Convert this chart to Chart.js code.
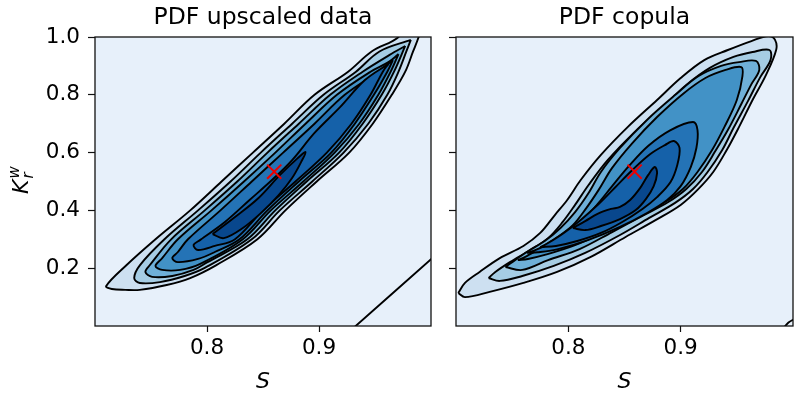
<!DOCTYPE html>
<html>
<head>
<meta charset="utf-8">
<script src="https://cdn.jsdelivr.net/npm/chart.js@4.4.1/dist/chart.umd.min.js"></script>
<style>
  html, body { margin: 0; padding: 0; background: #fff; }
  #wrap { position: relative; width: 797px; height: 399px; }
  canvas { position: absolute; top: 0; }
</style>
</head>
<body>
<div id="wrap">
  <canvas id="left" width="440" height="399" style="left:0"></canvas>
  <canvas id="right" width="357" height="399" style="left:440px"></canvas>
</div>
<script>
// axis ticks
var xTicks = [0.8, 0.9];
var yTicks = [0.2, 0.4, 0.6, 0.8, 1.0];

// filled contour colours, outer -> inner
var levelColors = ['#cde0f1', '#a6cde4', '#6fb0d8', '#4292c6', '#2473b6', '#1561a9', '#08478d'];
var bgColor = '#e7f0fa';

// red x marks
var upscaledMark = [0.860, 0.534];
var copulaMark = [0.859, 0.534];

// "PDF upscaled data" contours (S, Kr^w)
var upL1 = [[0.968,1.03],[0.971,1.0],[0.947,0.95],[0.926,0.88],[0.896,0.80],[0.869,0.70],[0.841,0.60],[0.813,0.50],[0.785,0.40],[0.754,0.30],[0.728,0.21],[0.710,0.138],[0.715,0.128],[0.727,0.125],[0.740,0.125],[0.764,0.142],[0.785,0.166],[0.808,0.21],[0.845,0.30],[0.870,0.40],[0.898,0.50],[0.927,0.60],[0.948,0.70],[0.965,0.80],[0.977,0.88],[0.984,0.95],[0.989,1.0],[0.991,1.03]];
var upL2 = [[0.982,0.990],[0.954,0.95],[0.933,0.88],[0.904,0.80],[0.876,0.70],[0.848,0.60],[0.821,0.50],[0.792,0.40],[0.762,0.30],[0.740,0.21],[0.735,0.166],[0.740,0.149],[0.758,0.152],[0.780,0.173],[0.798,0.201],[0.840,0.30],[0.865,0.40],[0.894,0.50],[0.922,0.60],[0.944,0.70],[0.961,0.80],[0.971,0.88],[0.978,0.95]];
var upL3 = [[0.977,0.969],[0.963,0.938],[0.939,0.88],[0.910,0.80],[0.882,0.70],[0.854,0.60],[0.827,0.50],[0.798,0.40],[0.768,0.30],[0.749,0.211],[0.745,0.187],[0.751,0.170],[0.769,0.173],[0.788,0.194],[0.800,0.22],[0.836,0.30],[0.861,0.40],[0.889,0.50],[0.918,0.60],[0.939,0.70],[0.956,0.80],[0.967,0.88]];
var upL4 = [[0.971,0.941],[0.962,0.913],[0.946,0.88],[0.916,0.80],[0.888,0.70],[0.861,0.60],[0.833,0.50],[0.804,0.40],[0.774,0.30],[0.760,0.235],[0.754,0.208],[0.760,0.194],[0.776,0.194],[0.794,0.215],[0.832,0.30],[0.857,0.40],[0.886,0.50],[0.914,0.60],[0.936,0.70],[0.953,0.80],[0.964,0.88]];
var upL5 = [[0.966,0.920],[0.953,0.88],[0.923,0.80],[0.896,0.70],[0.868,0.60],[0.840,0.50],[0.812,0.40],[0.783,0.30],[0.774,0.256],[0.769,0.235],[0.774,0.221],[0.792,0.232],[0.807,0.256],[0.829,0.30],[0.854,0.40],[0.882,0.50],[0.911,0.60],[0.932,0.70],[0.949,0.80],[0.961,0.88]];
var upL6 = [[0.962,0.907],[0.941,0.851],[0.919,0.758],[0.896,0.668],[0.876,0.574],[0.858,0.505],[0.838,0.436],[0.816,0.360],[0.794,0.298],[0.788,0.280],[0.792,0.263],[0.807,0.277],[0.825,0.30],[0.850,0.40],[0.879,0.50],[0.907,0.60],[0.929,0.70],[0.946,0.80],[0.957,0.88]];
var upL7 = [[0.805,0.318],[0.825,0.377],[0.846,0.443],[0.865,0.522],[0.881,0.581],[0.888,0.602],[0.884,0.567],[0.876,0.512],[0.864,0.453],[0.849,0.394],[0.832,0.339],[0.815,0.304]];
var upEdge = [[0.931,-0.006],[1.002,0.238]];

// "PDF copula" contours
var cpL1 = [[0.702,0.114],[0.708,0.149],[0.721,0.187],[0.739,0.235],[0.760,0.277],[0.775,0.322],[0.788,0.384],[0.799,0.436],[0.811,0.505],[0.829,0.592],[0.853,0.689],[0.879,0.782],[0.900,0.858],[0.921,0.920],[0.942,0.955],[0.963,0.986],[0.978,1.003],[0.984,0.990],[0.985,0.955],[0.976,0.869],[0.964,0.782],[0.952,0.689],[0.941,0.609],[0.929,0.533],[0.915,0.471],[0.900,0.419],[0.878,0.367],[0.851,0.308],[0.820,0.239],[0.790,0.187],[0.760,0.149],[0.730,0.118],[0.708,0.100]];
var cpL2 = [[0.729,0.166],[0.735,0.187],[0.748,0.221],[0.766,0.263],[0.782,0.304],[0.795,0.360],[0.806,0.419],[0.818,0.488],[0.835,0.574],[0.859,0.671],[0.885,0.761],[0.905,0.834],[0.926,0.893],[0.947,0.931],[0.964,0.948],[0.979,0.955],[0.980,0.920],[0.971,0.862],[0.960,0.779],[0.947,0.685],[0.937,0.609],[0.924,0.533],[0.911,0.474],[0.895,0.426],[0.872,0.374],[0.846,0.315],[0.815,0.253],[0.787,0.208],[0.759,0.173],[0.739,0.156]];
var cpL3 = [[0.744,0.204],[0.750,0.221],[0.763,0.256],[0.779,0.294],[0.793,0.339],[0.806,0.394],[0.818,0.460],[0.829,0.533],[0.846,0.616],[0.870,0.713],[0.895,0.799],[0.916,0.865],[0.936,0.900],[0.952,0.913],[0.967,0.917],[0.970,0.886],[0.963,0.837],[0.954,0.768],[0.942,0.678],[0.931,0.606],[0.919,0.533],[0.905,0.474],[0.889,0.429],[0.866,0.381],[0.839,0.325],[0.810,0.266],[0.782,0.228],[0.759,0.194]];
var cpL4 = [[0.755,0.228],[0.763,0.242],[0.775,0.270],[0.789,0.304],[0.804,0.349],[0.816,0.408],[0.827,0.471],[0.839,0.547],[0.857,0.633],[0.879,0.723],[0.902,0.803],[0.922,0.858],[0.940,0.886],[0.954,0.896],[0.955,0.865],[0.950,0.782],[0.939,0.689],[0.928,0.609],[0.915,0.533],[0.902,0.474],[0.886,0.429],[0.863,0.384],[0.836,0.332],[0.806,0.280],[0.779,0.246],[0.764,0.232]];
var cpL5 = [[0.763,0.253],[0.771,0.263],[0.784,0.287],[0.798,0.322],[0.813,0.367],[0.826,0.422],[0.839,0.484],[0.854,0.554],[0.871,0.623],[0.891,0.678],[0.911,0.706],[0.915,0.678],[0.914,0.616],[0.909,0.550],[0.900,0.484],[0.888,0.436],[0.870,0.391],[0.846,0.343],[0.818,0.298],[0.791,0.266],[0.773,0.255]];
var cpL6 = [[0.775,0.273],[0.782,0.287],[0.796,0.322],[0.811,0.367],[0.827,0.422],[0.842,0.481],[0.857,0.540],[0.873,0.595],[0.886,0.626],[0.894,0.640],[0.899,0.616],[0.897,0.557],[0.891,0.498],[0.879,0.446],[0.866,0.405],[0.848,0.360],[0.829,0.322],[0.808,0.294],[0.789,0.277]];
var cpL7 = [[0.804,0.339],[0.815,0.363],[0.826,0.388],[0.838,0.405],[0.846,0.412],[0.855,0.436],[0.864,0.478],[0.871,0.522],[0.877,0.550],[0.879,0.529],[0.876,0.484],[0.869,0.439],[0.860,0.401],[0.846,0.370],[0.829,0.346],[0.815,0.332]];
var cpEdge = [[0.991,-0.01],[0.996,0.012],[1.003,0.028]];

function contour(pts, color, order) {
  var data = pts.concat([pts[0]]).map(function(p) { return {x: p[0], y: p[1]}; });
  return {
    data: data,
    borderColor: '#000',
    borderWidth: 1.9,
    backgroundColor: color,
    fill: 'shape',
    tension: 0.35,
    pointRadius: 0,
    order: order,
    clip: 0
  };
}

function plainLine(pts) {
  return {
    data: pts.map(function(p) { return {x: p[0], y: p[1]}; }),
    borderColor: '#000',
    borderWidth: 1.9,
    fill: false,
    tension: 0.35,
    pointRadius: 0,
    order: 9,
    clip: 0
  };
}

function mark(p) {
  return {
    data: [{x: p[0], y: p[1]}],
    showLine: false,
    pointStyle: 'crossRot',
    pointRadius: 10,
    pointBorderColor: '#ee0000',
    pointBorderWidth: 2,
    order: 0,
    clip: 0
  };
}

var panelPlugin = {
  id: 'panel',
  beforeDatasetsDraw: function(chart) {
    var a = chart.chartArea, ctx = chart.ctx;
    ctx.save();
    ctx.fillStyle = bgColor;
    ctx.fillRect(a.left, a.top, a.right - a.left, a.bottom - a.top);
    ctx.restore();
  },
  afterDatasetsDraw: function(chart) {
    var a = chart.chartArea, ctx = chart.ctx;
    ctx.save();
    ctx.strokeStyle = '#111';
    ctx.lineWidth = 1.3;
    ctx.strokeRect(a.left, a.top, a.right - a.left, a.bottom - a.top);
    ctx.restore();
  },
  afterDraw: function(chart, args, opts) {
    var a = chart.chartArea, ctx = chart.ctx;
    var cx = (a.left + a.right) / 2;
    ctx.save();
    ctx.fillStyle = '#000';
    ctx.textAlign = 'center';
    ctx.textBaseline = 'alphabetic';
    ctx.font = '23.5px "DejaVu Sans"';
    ctx.fillText(opts.title, cx, 24);
    ctx.font = 'italic 22px "DejaVu Sans"';
    ctx.fillText('S', cx, 388);
    if (opts.ylabel) {
      ctx.translate(28, 181);
      ctx.rotate(-Math.PI / 2);
      ctx.textAlign = 'left';
      ctx.font = 'italic 22px "DejaVu Sans"';
      ctx.fillText('K', -13, 0);
      var kw = ctx.measureText('K').width;
      ctx.font = 'italic 15px "DejaVu Sans"';
      ctx.fillText('w', -13 + kw + 1, -9);
      ctx.fillText('r', -13 + kw + 1, 5);
    }
    ctx.restore();
  }
};

function makeChart(id, title, levels, edge, markPt, showYLabels) {
  var datasets = [];
  for (var i = 0; i < levels.length; i++) {
    datasets.push(contour(levels[i], levelColors[i], levels.length - i));
  }
  datasets.push(plainLine(edge));
  datasets.push(mark(markPt));

  return new Chart(document.getElementById(id), {
    type: 'line',
    data: { datasets: datasets },
    options: {
      responsive: false,
      animation: false,
      layout: { autoPadding: false, padding: { top: 37, right: showYLabels ? 9 : 4, left: 0, bottom: 0 } },
      plugins: {
        legend: { display: false },
        tooltip: { enabled: false },
        panel: { title: title, ylabel: showYLabels }
      },
      scales: {
        x: {
          type: 'linear',
          min: 0.7,
          max: 1.0,
          afterBuildTicks: function(s) { s.ticks = xTicks.map(function(v) { return {value: v}; }); },
          afterFit: function(s) { s.height = 73; s.paddingLeft = 0; s.paddingRight = 0; },
          border: { display: false },
          grid: { drawOnChartArea: false, drawTicks: true, tickLength: 6, tickColor: '#111', tickWidth: 1.2 },
          ticks: {
            color: '#000',
            padding: 4,
            maxRotation: 0,
            font: { family: 'DejaVu Sans', size: 21.5 },
            callback: function(v) { return Number(v).toFixed(1); }
          }
        },
        y: {
          type: 'linear',
          min: 0,
          max: 1.0,
          afterBuildTicks: function(s) { s.ticks = yTicks.map(function(v) { return {value: v}; }); },
          afterFit: function(s) { s.width = showYLabels ? 95 : 16; s.paddingTop = 0; s.paddingBottom = 0; },
          border: { display: false },
          grid: { drawOnChartArea: false, drawTicks: true, tickLength: 7, tickColor: '#111', tickWidth: 1.2 },
          ticks: {
            display: showYLabels,
            color: '#000',
            padding: 8,
            font: { family: 'DejaVu Sans', size: 21.5 },
            callback: function(v) { return Number(v).toFixed(1); }
          }
        }
      }
    },
    plugins: [panelPlugin]
  });
}

makeChart('left', 'PDF upscaled data', [upL1, upL2, upL3, upL4, upL5, upL6, upL7], upEdge, upscaledMark, true);
makeChart('right', 'PDF copula', [cpL1, cpL2, cpL3, cpL4, cpL5, cpL6, cpL7], cpEdge, copulaMark, false);
</script>
</body>
</html>
